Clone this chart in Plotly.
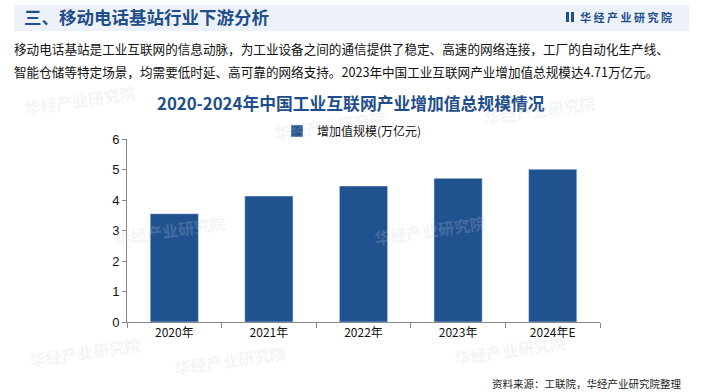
import plotly.graph_objects as go

categories = ["2020年", "2021年", "2022年", "2023年", "2024年E"]
values = [3.55, 4.13, 4.46, 4.71, 5.01]
series_name = "增加值规模(万亿元)"
y_ticks = [0, 1, 2, 3, 4, 5, 6]

W, H = 702, 392
# target plot area in window pixels: x 127..600, y 139..322
L = 127
R = W - 600
T = 139
B = H - 322
pw, ph = W - L - R, H - T - B

def px(x):
    return (x - L) / pw

def py(y):
    return (H - B - y) / ph

fig = go.Figure()
fig.add_trace(go.Bar(
    x=categories, y=values, name=series_name,
    marker_color="#215290", width=0.51,
))

shapes = [
    dict(type="rect", xref="paper", yref="paper",
         x0=px(14), x1=px(689), y0=py(31), y1=py(5),
         fillcolor="#EDF2FA", line_width=0, layer="below"),
    dict(type="rect", xref="paper", yref="paper",
         x0=px(566), x1=px(569), y0=py(22), y1=py(12),
         fillcolor="#1F4E8C", line_width=0),
    dict(type="rect", xref="paper", yref="paper",
         x0=px(571), x1=px(574), y0=py(22), y1=py(12),
         fillcolor="#1F4E8C", line_width=0),
]

font = "Noto Sans CJK SC, Noto Sans, sans-serif"
ann = [
    dict(text="<b>三、移动电话基站行业下游分析</b>", x=px(22), y=py(17),
         xanchor="left", yanchor="middle", font=dict(size=17.5, color="#1F4E8C")),
    dict(text="<b>华 经 产 业 研 究 院</b>", x=px(578), y=py(17),
         xanchor="left", yanchor="middle", font=dict(size=11, color="#1F4E8C")),
    dict(text="移动电话基站是工业互联网的信息动脉，为工业设备之间的通信提供了稳定、高速的网络连接，工厂的自动化生产线、",
         x=px(12), y=py(49), xanchor="left", yanchor="middle", font=dict(size=12.6, color="#111")),
    dict(text="智能仓储等特定场景，均需要低时延、高可靠的网络支持。2023年中国工业互联网产业增加值总规模达4.71万亿元。",
         x=px(12), y=py(71), xanchor="left", yanchor="middle", font=dict(size=12.6, color="#111")),
    dict(text="<b>2020-2024年中国工业互联网产业增加值总规模情况</b>", x=px(351), y=py(103),
         xanchor="center", yanchor="middle", font=dict(size=16.8, color="#1F4E8C")),
    dict(text="资料来源：工联院，华经产业研究院整理", x=px(683), y=py(383),
         xanchor="right", yanchor="middle", font=dict(size=10.5, color="#222")),
]
wm = [(80, 100), (330, 125), (540, 110), (170, 230), (430, 230), (230, 360), (510, 350), (85, 352)]
for (x, y) in wm:
    ann.append(dict(text="<b>华经产业研究院</b>", x=px(x), y=py(y), xanchor="center", yanchor="middle",
                    font=dict(size=16, color="rgba(200,205,215,0.22)"), textangle=-8))
for a in ann:
    a.update(xref="paper", yref="paper", showarrow=False)
    a["font"]["family"] = font

fig.update_layout(
    width=W, height=H, autosize=False,
    margin=dict(l=L, r=R, t=T, b=B),
    paper_bgcolor="white", plot_bgcolor="white",
    font=dict(family="Liberation Sans, Arial, sans-serif", size=12, color="#111"),
    showlegend=True,
    legend=dict(orientation="h", x=px(277), xanchor="left", y=py(131), yanchor="middle",
                font=dict(family=font, size=12, color="#111"), itemwidth=30),
    shapes=shapes, annotations=ann,
)
fig.update_xaxes(showline=True, linecolor="#888", linewidth=1, ticks="outside", ticklen=5,
                 tickcolor="#888", tickson="boundaries", showgrid=False,
                 tickfont=dict(family=font, size=12, color="#111"))
fig.update_yaxes(range=[0, 6], tickvals=y_ticks, showline=True, linecolor="#888", linewidth=1,
                 ticks="outside", ticklen=4, tickcolor="#888", showgrid=False, zeroline=False,
                 tickfont=dict(size=13, color="#111"))

fig.write_html("out.html", config={"displayModeBar": False},
               post_script="document.body.style.margin='0';")
